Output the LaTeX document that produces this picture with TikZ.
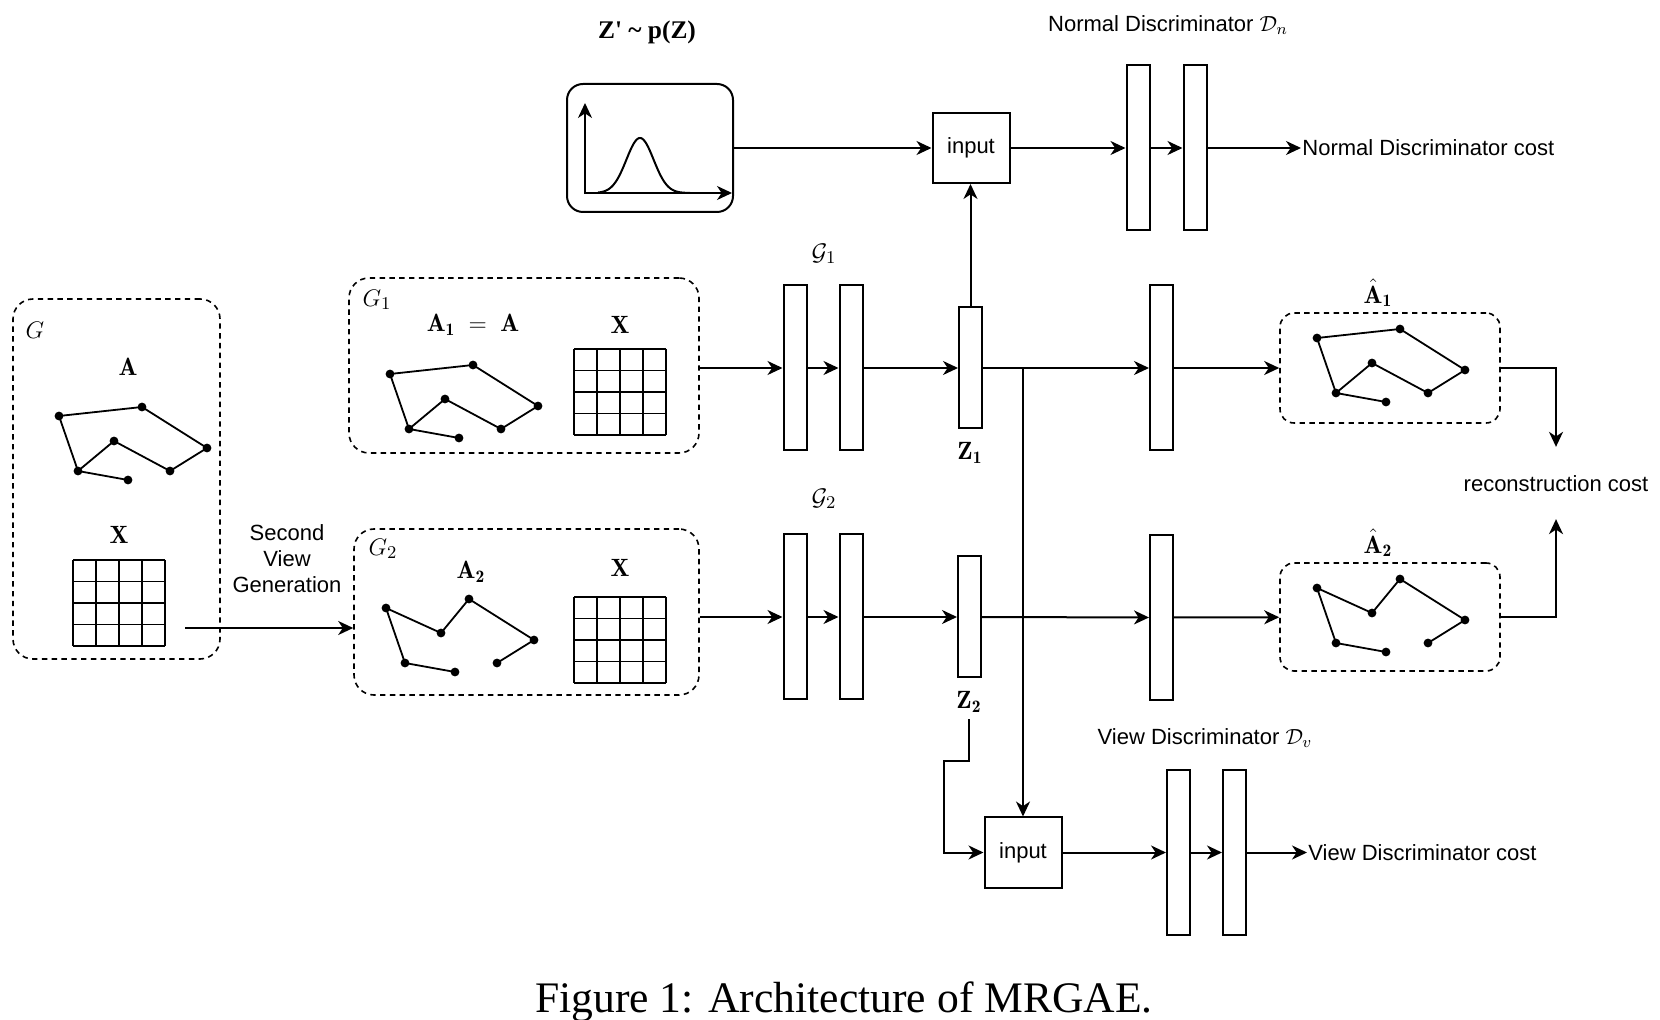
\documentclass[tikz,border=0pt]{standalone}
\usepackage{amsmath}
\usepackage{fontspec}
\usepackage{tikz}
\usetikzlibrary{arrows.meta, positioning, calc}
\newfontfamily\arialfont{Liberation Sans}
\newfontfamily\timesfont{Liberation Serif}

\tikzset{
    graphdots/.pic={
        \foreach \p/\q in {0/0, 83/-9, 148/32, 111/55, 55/25, 19/55, 69/64}
            \fill (\p,\q) circle (2.2pt);
    },
    graphone/.pic={
        \draw[line width=0.9pt] (69,64) -- (19,55) -- (0,0) -- (83,-9) -- (148,32) -- (111,55) -- (55,25) -- (19,55);
        \pic {graphdots};
    },
    graphtwo/.pic={
        \draw[line width=0.9pt] (69,64) -- (19,55) -- (0,0) -- (55,25) -- (83,-9) -- (148,32) -- (111,55);
        \pic {graphdots};
    },
    featgrid/.pic={
        \foreach \i in {0,...,4} {
            \draw[line width=0.9pt] (\i*23,0) -- (\i*23,86);
            \draw[line width=0.9pt] (0,\i*21.5) -- (92,\i*21.5);
        }
    }
}

\begin{document}
\begin{tikzpicture} [
    x=0.5pt, y=-0.5pt,
    font=\arialfont\fontsize{11}{13}\selectfont,
    >={Stealth[length=7.5pt, width=7pt, inset=2.3pt]},
    layer/.style={rectangle, draw, line width=1pt, minimum width=11.5pt, minimum height=82.5pt, inner sep=0pt},
    zlayer/.style={layer, minimum height=60.5pt},
    inbox/.style={rectangle, draw, line width=1pt, minimum width=38.5pt, minimum height=35pt},
    distbox/.style={rectangle, draw, line width=1pt, rounded corners=8pt, minimum width=83pt, minimum height=64pt},
    graphbox/.style={rectangle, draw, dash pattern=on 2.7pt off 2.2pt, line width=0.8pt, rounded corners=10pt, inner sep=0pt},
    line/.style={draw, ->, line width=1pt},
    costlabel/.style={anchor=west, inner sep=0.5pt},
    mlabel/.style={font=\fontsize{12.5}{15}\selectfont}
]
    \useasboundingbox (0,0) rectangle (1660,1020);

    % Input graph and its two views
    \node[graphbox, minimum width=103.5pt, minimum height=180pt] (gbox) at (116.5,479) {};
    \node[mlabel] (glab) at (35,330) {$G$};
    \node[mlabel] (alab) at (128,367) {$\mathbf{A}$};
    \pic at (59,416) {graphone};
    \node[mlabel] (xlab) at (119,535) {$\mathbf{X}$};
    \pic at (73,560) {featgrid};

    \node[graphbox, minimum width=175pt, minimum height=87.5pt] (g1box) at (524,365.5) {};
    \node[mlabel] (g1lab) at (377,300) {$G_1$};
    \node[mlabel] (a1lab) at (473,325) {$\mathbf{A_1} \;=\; \mathbf{A}$};
    \node[mlabel] (x1lab) at (620,325) {$\mathbf{X}$};
    \pic at (390,374) {graphone};
    \pic at (574,349) {featgrid};

    \node[graphbox, minimum width=172.5pt, minimum height=83pt] (g2box) at (526.5,612) {};
    \node[mlabel] (g2lab) at (383,549) {$G_2$};
    \node[mlabel] (a2lab) at (471,572) {$\mathbf{A_2}$};
    \node[mlabel] (x2lab) at (620,568) {$\mathbf{X}$};
    \pic at (386,608) {graphtwo};
    \pic at (574,597) {featgrid};

    \coordinate (svstart) at (185,628);
    \node[align=center] (svlab) at (287,559) {Second\\View\\Generation};

    % Encoders
    \node[layer] (enc1a) at (795,368) {};
    \node[layer, right=15.5pt of enc1a] (enc1b) {};
    \node[mlabel] (gcal1) at (824,254) {$\mathcal{G}_1$};
    \node[zlayer] (z1) at (970.5,368) {};
    \node[mlabel] (z1lab) at (970,453) {$\mathbf{Z_1}$};

    \node[layer] (enc2a) at (795,617) {};
    \node[layer, right=15.5pt of enc2a] (enc2b) {};
    \node[mlabel] (gcal2) at (824,499) {$\mathcal{G}_2$};
    \node[zlayer] (z2) at (969.5,617) {};
    \node[mlabel] (z2lab) at (969,702) {$\mathbf{Z_2}$};

    % Decoders and reconstructions
    \node[layer] (dec1) at (1161.5,368) {};
    \node[layer] (dec2) at (1161.5,617.5) {};
    \node[graphbox, rounded corners=7pt, minimum width=110pt, minimum height=55pt] (ahat1box) at (1390,368) {};
    \node[mlabel] (ahat1lab) at (1378,293) {$\hat{\mathbf{A}}_{\mathbf{1}}$};
    \pic at (1317,338) {graphone};
    \node[graphbox, rounded corners=7pt, minimum width=110pt, minimum height=54pt] (ahat2box) at (1390,617) {};
    \node[mlabel] (ahat2lab) at (1378,543) {$\hat{\mathbf{A}}_{\mathbf{2}}$};
    \pic at (1317,588) {graphtwo};
    \node (recon) at (1556,484) {reconstruction cost};

    % Normal discriminator
    \node[font=\timesfont\bfseries\fontsize{12.7}{15}\selectfont] (priorlab) at (647,32) {Z\textquotesingle{} \textasciitilde{} p(Z)};
    \node[distbox] (prior) at (650,148) {};
    \draw[<->, line width=1pt] (585,103) -- (585,193) -- (732,193);
    \draw[line width=1pt] plot[domain=598:690, samples=80, smooth] (\x, {193-55*exp(-((\x-640)/13.6)*((\x-640)/13.6)/2)});
    \node[inbox] (in1) at (971,148) {input};
    \node[layer] (disn1) at (1138,148) {};
    \node[layer, right=16pt of disn1] (disn2) {};
    \node (ntitle) at (1168,25) {Normal Discriminator $\mathcal{D}_n$};
    \node[costlabel] (ncost) at (1301,148) {Normal Discriminator cost};

    % View discriminator
    \node[inbox] (in2) at (1023,852.5) {input};
    \node[layer] (disv1) at (1178.5,852.5) {};
    \node[layer, right=15.5pt of disv1] (disv2) {};
    \node (vtitle) at (1205,738) {View Discriminator $\mathcal{D}_v$};
    \node[costlabel] (vcost) at (1307,852.5) {View Discriminator cost};

    \node[font=\timesfont\fontsize{21.8}{26}\selectfont] (caption) at (844,1002) {Figure 1: Architecture of MRGAE.};

    % Arrows
    \path [line] (svstart) -- (svstart -| g2box.west);
    \path [line] (g1box.east |- enc1a) -- (enc1a);
    \path [line] (enc1a) -- (enc1b);
    \path [line] (enc1b) -- (z1);
    \path [line] (z1) -- (dec1);
    \path [line] (dec1) -- (ahat1box);
    \path [line] (g2box.east |- enc2a) -- (enc2a);
    \path [line] (enc2a) -- (enc2b);
    \path [line] (enc2b) -- (z2);
    \path [line] (z2) -- (dec2);
    \path [line] (dec2) -- (ahat2box);
    \path [line] (ahat1box.east) -| ([yshift=11pt]recon.north);
    \path [line] (ahat2box.east) -| ([yshift=-10pt]recon.south);

    \path [line] (prior.east) -- (in1);
    \path [line] (z1.north) -- (z1.north |- in1.south);
    \path [line] (in1) -- (disn1);
    \path [line] (disn1) -- (disn2);
    \path [line] (disn2) -- (ncost);

    \path [line] (z1.east -| in2.north) -- (in2.north);
    \path [line] (z2lab.south) -- ++(0,42) -| ($(in2.west)+(-40,0)$) -- (in2.west);
    \path [line] (in2) -- (disv1);
    \path [line] (disv1) -- (disv2);
    \path [line] (disv2) -- (vcost);

\end{tikzpicture}
\end{document}
